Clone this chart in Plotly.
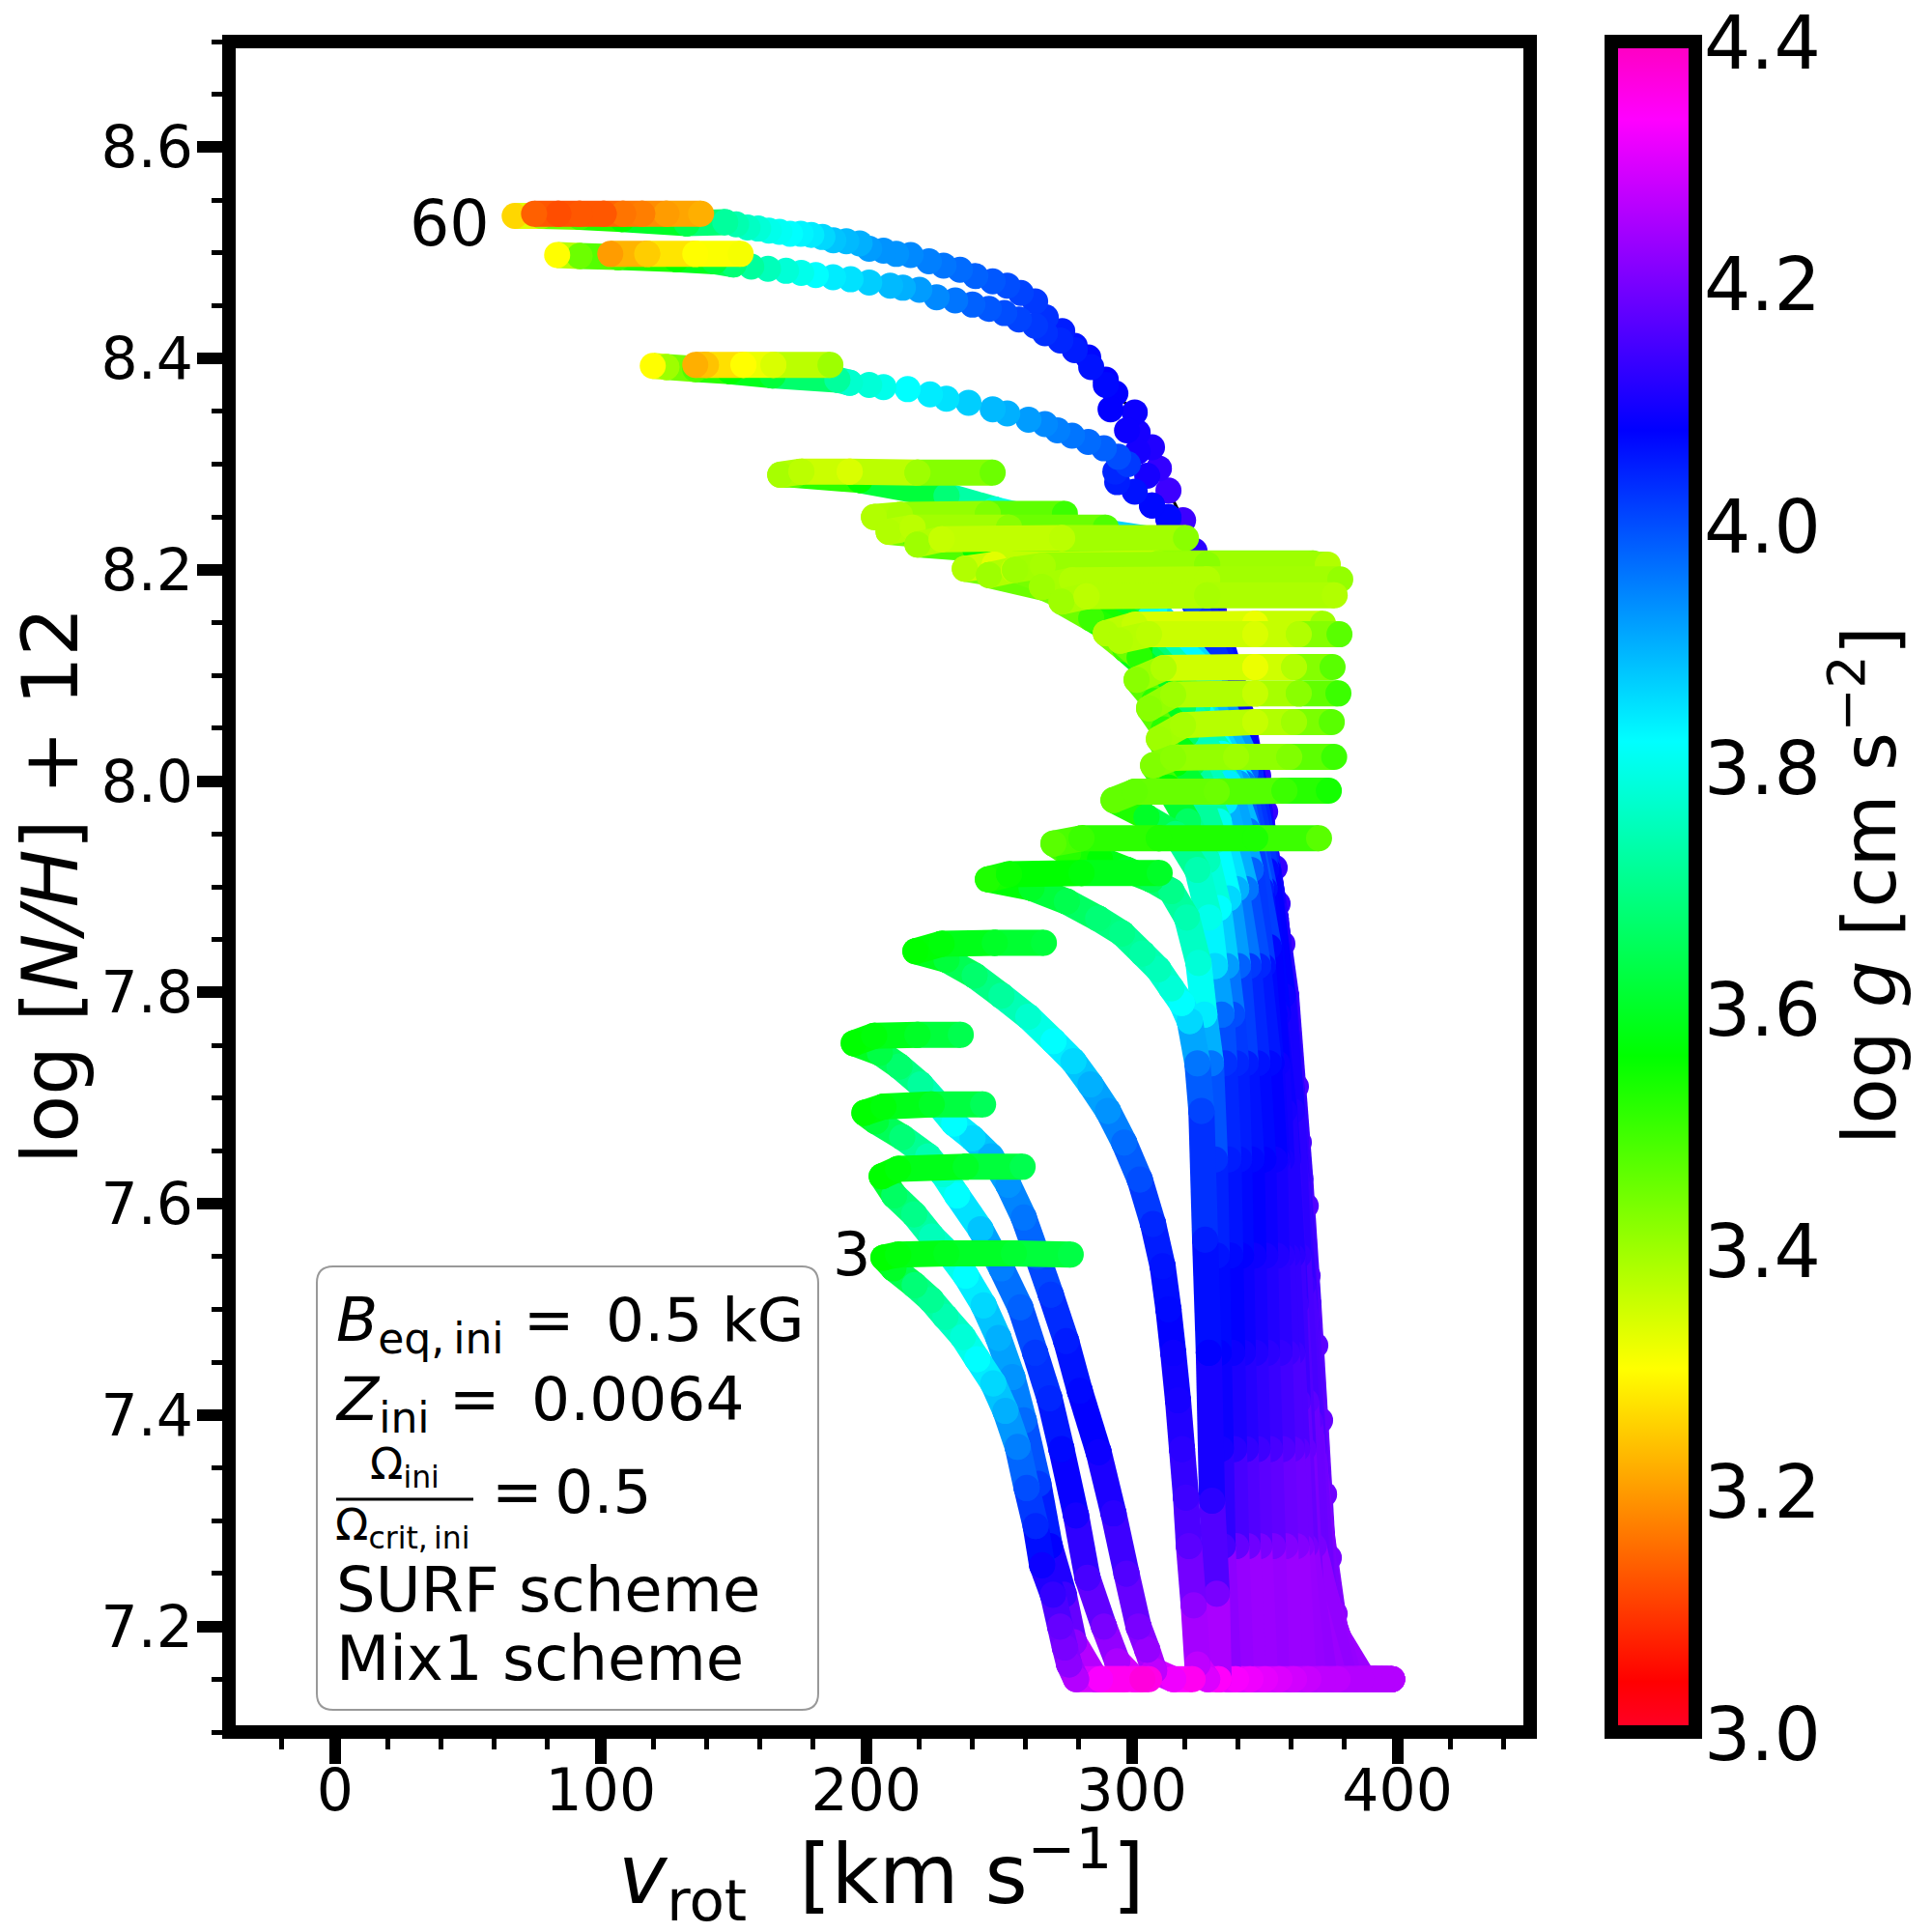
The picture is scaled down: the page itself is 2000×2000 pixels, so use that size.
import plotly.graph_objects as go

# ---- readings: v_rot [km/s], log[N/H]+12, log g ----
t01_v = [304, 288, 279, 276.4, 274.8, 273, 270.3, 266.2, 263.8, 260.4, 257, 252.4, 247.8, 241.8, 236.4, 229.8, 224.4, 218.2, 210.2, 206.5, 212, 230.2, 255.6, 277]
t01_n = [7.15, 7.15, 7.15, 7.164, 7.18, 7.2, 7.23, 7.258, 7.295, 7.331, 7.37, 7.404, 7.43, 7.453, 7.474, 7.493, 7.509, 7.523, 7.539, 7.549, 7.552, 7.553, 7.553, 7.552]
t01_g = [4.37, 4.33, 4.26, 4.22, 4.2, 4.18, 4.13, 4.09, 4.04, 4.0, 3.95, 3.9, 3.86, 3.82, 3.78, 3.74, 3.71, 3.68, 3.6, 3.56, 3.57, 3.59, 3.61, 3.63]

t02_v = [297.5, 286.5, 278.2, 274.4, 269.1, 264.8, 259.3, 255, 249.8, 244.2, 237.5, 231.5, 224.7, 218, 210.5, 205.8, 212, 237.5, 258.9]
t02_n = [7.15, 7.15, 7.185, 7.23, 7.276, 7.335, 7.395, 7.436, 7.473, 7.504, 7.532, 7.552, 7.569, 7.59, 7.608, 7.626, 7.633, 7.635, 7.635]
t02_g = [4.35, 4.3, 4.22, 4.14, 4.08, 4.02, 3.97, 3.93, 3.9, 3.86, 3.82, 3.78, 3.75, 3.7, 3.66, 3.56, 3.57, 3.6, 3.64]

t03_v = [306.5, 301, 294.5, 289.5, 283.3, 279, 273.5, 269, 263.6, 258, 250.9, 243, 234.2, 229, 223.3, 213.5, 203.6, 199.3, 206.5, 224.7, 244]
t03_n = [7.15, 7.15, 7.167, 7.2, 7.246, 7.305, 7.368, 7.416, 7.459, 7.502, 7.539, 7.576, 7.608, 7.628, 7.645, 7.663, 7.678, 7.686, 7.692, 7.694, 7.694]
t03_g = [4.36, 4.33, 4.25, 4.2, 4.15, 4.1, 4.07, 4.04, 4.02, 3.98, 3.95, 3.88, 3.82, 3.78, 3.74, 3.68, 3.62, 3.56, 3.57, 3.6, 3.65]

t04_v = [322.9, 315.6, 308.4, 305.8, 302.5, 298, 293.1, 287.5, 280.4, 275.3, 269.5, 264.5, 259.3, 253.5, 246.9, 240, 233.1, 226.8, 220.4, 212.5, 205.1, 195.3, 203, 219.3, 235.6]
t04_n = [7.15, 7.15, 7.158, 7.178, 7.2, 7.25, 7.307, 7.365, 7.423, 7.47, 7.514, 7.55, 7.587, 7.618, 7.645, 7.662, 7.676, 7.695, 7.713, 7.73, 7.743, 7.752, 7.759, 7.76, 7.76]
t04_g = [4.35, 4.32, 4.27, 4.23, 4.2, 4.16, 4.12, 4.09, 4.07, 4.05, 4.02, 3.99, 3.96, 3.93, 3.9, 3.86, 3.82, 3.77, 3.72, 3.67, 3.63, 3.56, 3.57, 3.6, 3.64]

t05_v = [332.7, 328.4, 324.7, 323.3, 321.5, 320.4, 318.9, 317.4, 315.6, 313.8, 311.6, 308, 303, 297.1, 291, 284.4, 278, 270.5, 261, 250.9, 240.8, 230.2, 218.5, 228.4, 248.4, 266.9]
t05_n = [7.15, 7.15, 7.164, 7.22, 7.276, 7.322, 7.368, 7.414, 7.459, 7.5, 7.541, 7.581, 7.623, 7.658, 7.688, 7.713, 7.735, 7.754, 7.777, 7.797, 7.816, 7.831, 7.839, 7.846, 7.847, 7.847]
t05_g = [4.34, 4.3, 4.27, 4.22, 4.17, 4.14, 4.12, 4.1, 4.09, 4.07, 4.06, 4.04, 4.0, 3.97, 3.93, 3.9, 3.86, 3.82, 3.77, 3.72, 3.67, 3.62, 3.56, 3.57, 3.6, 3.62]

t06_v = [339.3, 332.7, 332, 330.2, 329, 327.6, 326.2, 324.7, 321.8, 318.8, 314.9, 310, 304, 296.3, 287.3, 275.5, 262.2, 245.8, 253.8, 281.1, 310.5]
t06_n = [7.15, 7.15, 7.231, 7.319, 7.459, 7.566, 7.688, 7.733, 7.773, 7.79, 7.804, 7.822, 7.837, 7.856, 7.87, 7.886, 7.899, 7.907, 7.912, 7.913, 7.913]
t06_g = [4.33, 4.3, 4.2, 4.12, 4.08, 4.05, 4.01, 3.96, 3.86, 3.82, 3.78, 3.75, 3.73, 3.7, 3.68, 3.64, 3.6, 3.53, 3.55, 3.57, 3.6]

t07_v = [344.7, 336.4, 334.2, 333.5, 332.7, 332, 331.3, 329.8, 327.3, 325.1, 320.7, 314.9, 307.3, 298.2, 288, 276, 270.5, 281.1, 310.2, 346.5, 370.5]
t07_n = [7.15, 7.15, 7.276, 7.368, 7.459, 7.551, 7.642, 7.733, 7.779, 7.828, 7.871, 7.896, 7.907, 7.916, 7.926, 7.932, 7.941, 7.946, 7.946, 7.946, 7.946]
t07_g = [4.32, 4.29, 4.15, 4.1, 4.08, 4.06, 4.03, 3.96, 3.84, 3.78, 3.74, 3.7, 3.65, 3.6, 3.56, 3.52, 3.47, 3.5, 3.53, 3.53, 3.47]

t08_v = [350.2, 341.1, 339.3, 338.5, 337.8, 337.1, 336.4, 334.9, 333.8, 331.3, 329.1, 324.7, 316.4, 305.5, 293.1, 301.1, 332, 357.5, 374.2]
t08_n = [7.15, 7.15, 7.276, 7.368, 7.459, 7.551, 7.642, 7.733, 7.779, 7.825, 7.871, 7.916, 7.95, 7.966, 7.982, 7.99, 7.99, 7.991, 7.991]
t08_g = [4.31, 4.28, 4.18, 4.12, 4.09, 4.07, 4.05, 4.03, 3.97, 3.86, 3.8, 3.74, 3.68, 3.6, 3.46, 3.46, 3.45, 3.5, 3.54]

t09_v = [355.6, 345.8, 343.6, 342.9, 341.8, 341.1, 340.4, 339.3, 337.8, 335.6, 332.7, 328.4, 321.1, 313.8, 308, 315.6, 339.3, 359.3, 376.2]
t09_n = [7.15, 7.15, 7.276, 7.368, 7.459, 7.551, 7.642, 7.733, 7.779, 7.825, 7.88, 7.925, 7.962, 7.994, 8.015, 8.022, 8.023, 8.023, 8.023]
t09_g = [4.3, 4.28, 4.19, 4.13, 4.1, 4.08, 4.06, 4.04, 4.0, 3.92, 3.82, 3.75, 3.66, 3.56, 3.43, 3.42, 3.4, 3.43, 3.5]

t10_v = [361.1, 350.2, 348, 347.3, 346.5, 345.8, 345.1, 342.9, 340, 336.4, 331.3, 324.7, 316.7, 310.2, 319.3, 346.5, 361.1, 375.3]
t10_n = [7.15, 7.15, 7.276, 7.368, 7.459, 7.551, 7.642, 7.733, 7.825, 7.889, 7.944, 7.99, 8.017, 8.04, 8.053, 8.056, 8.056, 8.056]
t10_g = [4.29, 4.27, 4.2, 4.14, 4.11, 4.09, 4.07, 4.05, 3.98, 3.86, 3.78, 3.66, 3.56, 3.4, 3.39, 3.36, 3.4, 3.47]

t11_v = [366.5, 354.5, 353.1, 352, 350.9, 350.2, 349.5, 347.3, 344, 339.3, 332.7, 322.9, 312, 306.5, 315.6, 346.5, 362.9, 377.8]
t11_n = [7.15, 7.15, 7.276, 7.368, 7.459, 7.551, 7.642, 7.733, 7.825, 7.898, 7.962, 8.017, 8.049, 8.069, 8.082, 8.083, 8.083, 8.083]
t11_g = [4.28, 4.26, 4.2, 4.15, 4.12, 4.1, 4.08, 4.06, 4.02, 3.9, 3.8, 3.64, 3.52, 3.42, 3.4, 3.36, 3.42, 3.5]

t12_v = [372, 359.6, 357.8, 356.7, 355.6, 354.5, 353.8, 351.6, 347.6, 342.9, 334.9, 320.4, 308.4, 301.8, 312, 346.5, 361.1, 375.6]
t12_n = [7.15, 7.15, 7.276, 7.368, 7.459, 7.551, 7.642, 7.733, 7.825, 7.898, 7.98, 8.044, 8.076, 8.096, 8.107, 8.108, 8.108, 8.108]
t12_g = [4.27, 4.26, 4.21, 4.16, 4.13, 4.11, 4.09, 4.07, 4.04, 3.96, 3.84, 3.66, 3.52, 3.42, 3.38, 3.32, 3.38, 3.47]

t13_v = [377.5, 364.7, 361.9, 360.3, 358.4, 356.5, 354.7, 352.5, 349.4, 344.8, 336.4, 319.3, 302.9, 295.6, 306.5, 346.5, 362.9, 378.2]
t13_n = [7.15, 7.15, 7.276, 7.368, 7.459, 7.551, 7.642, 7.733, 7.825, 7.916, 7.998, 8.071, 8.117, 8.133, 8.139, 8.139, 8.139, 8.139]
t13_g = [4.27, 4.26, 4.21, 4.17, 4.14, 4.12, 4.1, 4.08, 4.06, 3.98, 3.84, 3.66, 3.52, 3.38, 3.37, 3.34, 3.38, 3.47]

t14_v = [382.2, 368.4, 363.7, 362.2, 360.4, 358.6, 356.4, 354.7, 351.6, 343.7, 333.8, 317.5, 297.5, 290.2, 301.1, 346.5, 372]
t14_n = [7.15, 7.15, 7.276, 7.368, 7.459, 7.551, 7.642, 7.733, 7.843, 7.953, 8.026, 8.081, 8.125, 8.14, 8.148, 8.149, 8.149]
t14_g = [4.26, 4.25, 4.21, 4.17, 4.14, 4.12, 4.1, 4.09, 4.07, 3.96, 3.82, 3.66, 3.5, 3.38, 3.36, 3.32, 3.4]

t15_v = [386.5, 372.7, 365.4, 362.5, 360.4, 357.3, 353.6, 348.7, 340.1, 324.7, 302.9, 284.7, 273.5, 283, 328.4, 376.4]
t15_n = [7.15, 7.15, 7.276, 7.413, 7.551, 7.688, 7.779, 7.898, 7.998, 8.071, 8.126, 8.154, 8.17, 8.175, 8.176, 8.176]
t15_g = [4.26, 4.25, 4.2, 4.16, 4.12, 4.1, 4.08, 4.05, 3.92, 3.72, 3.56, 3.5, 3.4, 3.37, 3.39, 3.38]

t16_v = [389.5, 376.4, 367.5, 364.6, 361.7, 358.8, 355, 350, 341.9, 326.5, 302.9, 281.1, 266.2, 277.5, 328.4, 378.5]
t16_n = [7.15, 7.15, 7.231, 7.368, 7.505, 7.642, 7.779, 7.898, 7.998, 8.071, 8.135, 8.167, 8.184, 8.19, 8.191, 8.191]
t16_g = [4.26, 4.25, 4.22, 4.18, 4.14, 4.11, 4.09, 4.06, 3.96, 3.76, 3.6, 3.48, 3.4, 3.38, 3.38, 3.41]

t17_v = [392, 378.6, 368.5, 365.6, 362.7, 360.3, 356.8, 350.6, 342.7, 328.4, 304.7, 277.5, 256, 266.5, 328.4, 373.8]
t17_n = [7.15, 7.15, 7.276, 7.413, 7.551, 7.688, 7.797, 7.916, 8.008, 8.081, 8.144, 8.181, 8.2, 8.204, 8.205, 8.205]
t17_g = [4.26, 4.25, 4.2, 4.17, 4.13, 4.11, 4.09, 4.07, 3.98, 3.8, 3.7, 3.48, 3.4, 3.39, 3.42, 3.38]

t18_v = [394.5, 380, 369.5, 367, 364.4, 361.2, 357.4, 351.3, 343.8, 329.2, 306.5, 270.2, 246.2, 255.6, 310.2, 370.2]
t18_n = [7.15, 7.15, 7.265, 7.395, 7.523, 7.642, 7.77, 7.916, 8.017, 8.099, 8.154, 8.181, 8.195, 8.2, 8.2, 8.2]
t18_g = [4.26, 4.25, 4.2, 4.17, 4.14, 4.12, 4.1, 4.08, 4.0, 3.85, 3.8, 3.5, 3.4, 3.36, 3.38, 3.4]

t19_v = [396, 381.5, 370.9, 367.6, 365.1, 362, 358.1, 352, 344.5, 330.3, 308.4, 270.2, 237.1, 248.4, 310.2, 368.4]
t19_n = [7.15, 7.15, 7.24, 7.386, 7.505, 7.624, 7.752, 7.898, 8.008, 8.099, 8.163, 8.188, 8.201, 8.205, 8.206, 8.206]
t19_g = [4.26, 4.25, 4.21, 4.17, 4.15, 4.13, 4.11, 4.09, 4.02, 3.9, 3.82, 3.5, 3.38, 3.33, 3.4, 3.42]

t20_v = [396.7, 382.2, 371.6, 368.4, 365.8, 362.7, 359.5, 353.1, 345.6, 334.6, 322.9, 312, 284.7, 241, 219.3, 228.4, 273.8, 320.4]
t20_n = [7.15, 7.15, 7.24, 7.368, 7.477, 7.596, 7.733, 7.889, 7.999, 8.099, 8.172, 8.2, 8.213, 8.22, 8.224, 8.229, 8.23, 8.23]
t20_g = [4.26, 4.25, 4.21, 4.17, 4.15, 4.13, 4.12, 4.1, 4.08, 4.06, 4.0, 3.82, 3.62, 3.56, 3.4, 3.36, 3.37, 3.42]

t21_v = [397.5, 382.9, 372.4, 368.7, 366.2, 363.4, 360.3, 354.2, 346.7, 336.5, 324.7, 310.2, 255.6, 217.5, 208.4, 217.5, 253.8, 290.2]
t21_n = [7.15, 7.15, 7.231, 7.359, 7.459, 7.578, 7.706, 7.87, 7.99, 8.099, 8.181, 8.218, 8.23, 8.234, 8.236, 8.24, 8.24, 8.24]
t21_g = [4.26, 4.25, 4.22, 4.18, 4.16, 4.14, 4.12, 4.11, 4.09, 4.07, 4.03, 3.9, 3.62, 3.5, 3.38, 3.37, 3.42, 3.48]

t22_v = [398, 383.6, 373, 369.5, 366.5, 364.1, 361, 355, 347.5, 337.5, 326.5, 312, 281.1, 237.5, 202.9, 212.7, 245.8, 274.8]
t22_n = [7.15, 7.15, 7.222, 7.34, 7.441, 7.56, 7.679, 7.852, 7.981, 8.099, 8.19, 8.227, 8.239, 8.245, 8.25, 8.252, 8.253, 8.253]
t22_g = [4.26, 4.25, 4.22, 4.19, 4.16, 4.14, 4.12, 4.11, 4.1, 4.08, 4.05, 3.95, 3.78, 3.6, 3.38, 3.39, 3.43, 3.5]

t23_v = [398, 384.4, 373.8, 370.2, 367.3, 364.9, 361.7, 355.7, 348.2, 338.3, 328.4, 313.8, 273.8, 258.5, 248.4, 230.2, 197.5, 173.1, 167.6, 175.6, 193.8, 219.3, 247.6]
t23_n = [7.15, 7.15, 7.212, 7.322, 7.423, 7.541, 7.66, 7.834, 7.971, 8.09, 8.172, 8.222, 8.234, 8.251, 8.257, 8.27, 8.285, 8.29, 8.29, 8.293, 8.293, 8.292, 8.292]
t23_g = [4.26, 4.25, 4.22, 4.19, 4.17, 4.15, 4.13, 4.11, 4.1, 4.08, 4.05, 3.98, 3.88, 3.82, 3.78, 3.68, 3.56, 3.47, 3.39, 3.37, 3.34, 3.4, 3.45]

# 'C' = third highest track: body, dotted part, smooth tail, end clump
c_body_v = [398, 385.8, 374.6, 370.9, 368, 365.4, 362.3, 356.3, 348.9, 338.9, 329.1, 319.3, 313.8]
c_body_n = [7.15, 7.15, 7.203, 7.304, 7.414, 7.523, 7.642, 7.825, 7.962, 8.081, 8.163, 8.218, 8.25]
c_body_g = [4.26, 4.25, 4.22, 4.19, 4.17, 4.15, 4.13, 4.12, 4.11, 4.09, 4.08, 4.07, 4.07]
c_dots_v = [313.8, 307.6, 301.1, 294.5, 293.8, 298.5, 294.9, 289.5, 283.6, 277.5, 272, 267.3, 261.1, 253.1, 247.6, 238.5, 230.2, 224, 215.6, 206.5, 201.1, 193.8]
c_dots_n = [8.25, 8.261, 8.274, 8.283, 8.293, 8.3, 8.307, 8.315, 8.321, 8.327, 8.332, 8.338, 8.342, 8.348, 8.352, 8.358, 8.362, 8.366, 8.371, 8.373, 8.375, 8.377]
c_dots_g = [4.07, 4.07, 4.06, 4.05, 4.04, 4.02, 4.0, 3.98, 3.97, 3.96, 3.95, 3.94, 3.92, 3.9, 3.89, 3.87, 3.85, 3.84, 3.82, 3.8, 3.78, 3.77]
c_tail_v = [193.8, 189.1, 164.7, 148.7, 135.6, 124.7, 119.6]
c_tail_n = [8.377, 8.38, 8.384, 8.388, 8.39, 8.392, 8.393]
c_tail_g = [3.77, 3.72, 3.62, 3.56, 3.48, 3.4, 3.3]
c_end_v = [186.5, 165, 153.7, 139.6, 135.6]
c_end_n = [8.394, 8.394, 8.394, 8.394, 8.394]
c_end_g = [3.4, 3.34, 3.3, 3.24, 3.22]

# 'B' = second highest track
b_body_v = [398, 387.3, 376.7, 371.6, 369.1, 366.5, 363.4, 358.1, 350, 341.4, 331.3, 321.1, 313.8]
b_body_n = [7.15, 7.15, 7.194, 7.286, 7.395, 7.505, 7.624, 7.797, 7.943, 8.062, 8.145, 8.204, 8.248]
b_body_g = [4.26, 4.25, 4.22, 4.2, 4.18, 4.16, 4.14, 4.13, 4.12, 4.11, 4.1, 4.1, 4.1]
b_dots_v = [313.8, 307.6, 305.8, 302.2, 298.2, 292, 290.2, 284.7, 278.5, 273.1, 267.3, 263.6, 257.5, 252, 246.2, 240, 233.5, 226.5, 220, 213.8, 209, 201.1, 194.1, 187.5, 181, 175.5, 169.8, 163, 156.7, 150]
b_dots_n = [8.248, 8.261, 8.289, 8.312, 8.332, 8.352, 8.375, 8.392, 8.408, 8.417, 8.424, 8.431, 8.437, 8.443, 8.447, 8.451, 8.455, 8.458, 8.465, 8.467, 8.469, 8.472, 8.475, 8.477, 8.479, 8.481, 8.483, 8.485, 8.487, 8.489]
b_dots_g = [4.1, 4.1, 4.1, 4.1, 4.09, 4.08, 4.07, 4.06, 4.05, 4.04, 4.03, 4.02, 4.01, 4.0, 3.99, 3.98, 3.96, 3.94, 3.92, 3.9, 3.89, 3.87, 3.85, 3.84, 3.82, 3.8, 3.78, 3.75, 3.72, 3.68]
b_tail_v = [150, 142.9, 128.4, 106.5, 92, 83.6]
b_tail_n = [8.489, 8.492, 8.494, 8.496, 8.497, 8.498]
b_tail_g = [3.68, 3.62, 3.56, 3.5, 3.45, 3.3]
b_end_v = [152.7, 135.6, 117.5, 103.6]
b_end_n = [8.499, 8.499, 8.499, 8.499]
b_end_g = [3.31, 3.3, 3.25, 3.2]

# 'A' = highest track (edge of the fan; dots all the way)
a_dots_v = [398, 382.9, 380, 376.4, 374.2, 372.4, 370.9, 369.1, 366.2, 365.5, 362.9, 361.8, 358.9, 356.7, 356.7, 354.9, 353.8, 350.2, 347.6, 342.9, 340.4, 334.5, 330.9, 323.6, 319.3, 313.8, 310.2, 307.6, 302.2, 301.1, 293.8, 290.2, 283.6, 278.5, 273.8, 267.6, 263.6, 258.2, 253.1, 247.6, 241.1, 235.3, 229.1, 223.6, 216.7, 211.3, 206.5, 201.1, 197.5, 192.5, 187.6, 183.5, 179.3, 175.3, 171.3, 167.3, 163.3, 159.3, 155.3, 151, 146.9]
a_dots_n = [7.15, 7.15, 7.161, 7.212, 7.265, 7.325, 7.395, 7.466, 7.532, 7.598, 7.658, 7.711, 7.761, 7.8, 7.846, 7.884, 7.918, 7.971, 8.005, 8.042, 8.081, 8.116, 8.161, 8.218, 8.247, 8.275, 8.296, 8.316, 8.33, 8.349, 8.367, 8.38, 8.401, 8.412, 8.426, 8.439, 8.454, 8.462, 8.469, 8.473, 8.478, 8.484, 8.488, 8.492, 8.498, 8.499, 8.502, 8.504, 8.509, 8.511, 8.512, 8.515, 8.517, 8.518, 8.518, 8.52, 8.521, 8.523, 8.524, 8.527, 8.529]
a_dots_g = [4.26, 4.25, 4.24, 4.22, 4.2, 4.19, 4.18, 4.17, 4.16, 4.16, 4.15, 4.15, 4.14, 4.14, 4.14, 4.13, 4.13, 4.13, 4.13, 4.12, 4.12, 4.12, 4.12, 4.12, 4.14, 4.14, 4.13, 4.11, 4.1, 4.09, 4.08, 4.08, 4.07, 4.06, 4.05, 4.03, 4.02, 4.01, 4.0, 3.99, 3.98, 3.97, 3.96, 3.95, 3.94, 3.93, 3.93, 3.92, 3.9, 3.89, 3.88, 3.86, 3.84, 3.83, 3.82, 3.81, 3.8, 3.78, 3.76, 3.74, 3.72]
a_tail_v = [146.9, 132.4, 108, 92, 77.5, 67.6]
a_tail_n = [8.529, 8.528, 8.532, 8.534, 8.535, 8.535]
a_tail_g = [3.72, 3.64, 3.56, 3.5, 3.4, 3.26]
a_end_v = [137.8, 124.7, 115.6, 108.4, 101.1, 92, 84, 74.9]
a_end_n = [8.537, 8.537, 8.537, 8.537, 8.537, 8.537, 8.537, 8.537]
a_end_g = [3.22, 3.2, 3.17, 3.16, 3.13, 3.13, 3.12, 3.14]

x_ticks = [0, 100, 200, 300, 400]
x_minor = [-20, 20, 40, 60, 80, 120, 140, 160, 180, 220, 240, 260, 280, 320, 340, 360, 380, 420, 440]
y_ticks = [7.2, 7.4, 7.6, 7.8, 8.0, 8.2, 8.4, 8.6]
cb_ticks = [3.0, 3.2, 3.4, 3.6, 3.8, 4.0, 4.2, 4.4]
G_MIN, G_MAX = 3.0, 4.4

RAINBOW = [(0.000, (255, 0, 41)), (0.030, (255, 0, 0)), (0.215, (255, 255, 0)),
           (0.400, (0, 255, 0)), (0.586, (0, 255, 255)), (0.770, (0, 0, 255)),
           (0.954, (255, 0, 255)), (1.000, (255, 0, 191))]
COLORSCALE = [[p, f"rgb{c}"] for p, c in RAINBOW]


def colour(g):
    t = (g - G_MIN) / (G_MAX - G_MIN)
    for (p0, c0), (p1, c1) in zip(RAINBOW, RAINBOW[1:]):
        if t <= p1:
            f = (t - p0) / (p1 - p0)
            r = [round(a + (b - a) * f) for a, b in zip(c0, c1)]
            return f"rgb({r[0]},{r[1]},{r[2]})"
    return "rgb(255,0,191)"


fig = go.Figure()
MARK = 27
WIDTH = 27


def dots(v, n, g):
    fig.add_trace(go.Scatter(x=v, y=n, mode="markers", hoverinfo="skip", showlegend=False,
                             marker=dict(size=MARK, color=g, coloraxis="coloraxis", line_width=0)))


def stroke(v, n, g):
    # one piece per step so that later steps of a track lie over earlier ones
    for i in range(len(v) - 1):
        fig.add_trace(go.Scatter(x=v[i:i + 2], y=n[i:i + 2], mode="lines+markers", hoverinfo="skip", showlegend=False,
                                 line=dict(color=colour((g[i] + g[i + 1]) / 2), width=WIDTH),
                                 marker=dict(size=MARK, color=g[i:i + 2], coloraxis="coloraxis", line_width=0)))


# highest track first, lowest last: lower tracks lie on top
stroke(b_body_v, b_body_n, b_body_g)
stroke(c_body_v, c_body_n, c_body_g)
fig.add_trace(go.Scatter(x=a_dots_v, y=a_dots_n, mode="lines", hoverinfo="skip", showlegend=False,
                         line=dict(color="black", width=3)))
dots(a_dots_v, a_dots_n, a_dots_g)
stroke(a_tail_v, a_tail_n, a_tail_g)
stroke(a_end_v, a_end_n, a_end_g)
dots(b_dots_v, b_dots_n, b_dots_g)
stroke(b_tail_v, b_tail_n, b_tail_g)
stroke(b_end_v, b_end_n, b_end_g)
dots(c_dots_v, c_dots_n, c_dots_g)
stroke(c_tail_v, c_tail_n, c_tail_g)
stroke(c_end_v, c_end_n, c_end_g)
for v, n, g in [(t23_v, t23_n, t23_g), (t22_v, t22_n, t22_g), (t21_v, t21_n, t21_g), (t20_v, t20_n, t20_g),
                (t19_v, t19_n, t19_g), (t18_v, t18_n, t18_g), (t17_v, t17_n, t17_g), (t16_v, t16_n, t16_g),
                (t15_v, t15_n, t15_g), (t14_v, t14_n, t14_g), (t13_v, t13_n, t13_g), (t12_v, t12_n, t12_g),
                (t11_v, t11_n, t11_g), (t10_v, t10_n, t10_g), (t09_v, t09_n, t09_g), (t08_v, t08_n, t08_g),
                (t07_v, t07_n, t07_g), (t06_v, t06_n, t06_g), (t05_v, t05_n, t05_g), (t04_v, t04_n, t04_g),
                (t03_v, t03_n, t03_g), (t02_v, t02_n, t02_g), (t01_v, t01_n, t01_g)]:
    stroke(v, n, g)

PAGE = 8  # the page's own margin


def X(px):
    return (px - PAGE) / 2000


def Y(px):
    return 1 - (px - PAGE) / 2000


FONT = "DejaVu Sans"
L, R, T, B = 237, 1584, 43, 1793


def note(text, x, y, size, anchor="left", angle=0):
    fig.add_annotation(text=text, xref="paper", yref="paper", x=X(x), y=Y(y), xanchor=anchor, yanchor="middle",
                       showarrow=False, textangle=angle, font=dict(family=FONT, size=size, color="black"))


fig.add_annotation(text="60", x=43, y=8.528, showarrow=False, font=dict(family=FONT, size=65, color="black"))
fig.add_annotation(text="3", x=194.5, y=7.552, showarrow=False, font=dict(family=FONT, size=62, color="black"))

NB = "\u00a0"
TH = "\u2009"
note(f"<i>v</i><sub>rot</sub>{NB}{NB}[km s<sup>\u22121</sup>]", 912, 1940, 85, "center")
note("log [<i>N/H</i>] + 12", 52, 917, 80, "center", -90)
note("log <i>g</i> [cm s<sup>\u22122</sup>]", 1930, 917, 77, "center", -90)

for t in cb_ticks:
    note(f"{t:.1f}", 1762, B - (t - G_MIN) / (G_MAX - G_MIN) * (B - T) + 2, 76)

note(f"<i>B</i><sub>eq,{TH}ini</sub> ={NB}{TH}0.5 kG", 346, 1370, 63)
note(f"<i>Z</i><sub>ini</sub> ={NB}{TH}0.0064", 345, 1452, 63)
note("\u03a9<sub>ini</sub>", 381, 1518, 45)
note(f"\u03a9<sub>crit,{TH}ini</sub>", 345, 1581, 45)
note(f"={TH}0.5", 507, 1544, 63)
note("SURF scheme", 346, 1646, 64)
note("Mix1 scheme", 346, 1717, 64)

r = 17
x0, x1, y0, y1 = X(328), X(847), Y(1311), Y(1770)
rx, ry = r / 2000, r / 2000
box = (f"M {x0+rx} {y0} L {x1-rx} {y0} Q {x1} {y0} {x1} {y0-ry} L {x1} {y1+ry} Q {x1} {y1} {x1-rx} {y1} "
       f"L {x0+rx} {y1} Q {x0} {y1} {x0} {y1+ry} L {x0} {y0-ry} Q {x0} {y0} {x0+rx} {y0} Z")

fig.update_layout(
    width=2000, height=2000, autosize=False, paper_bgcolor="white", plot_bgcolor="white",
    margin=dict(l=0, r=0, t=0, b=0), showlegend=False,
    font=dict(family=FONT, color="black"),
    coloraxis=dict(
        cmin=G_MIN, cmax=G_MAX, colorscale=COLORSCALE,
        colorbar=dict(
            x=X(1668), xanchor="left", xpad=0, y=Y(T), yanchor="top", ypad=0,
            len=B - T, lenmode="pixels", thickness=1755 - 1668, thicknessmode="pixels",
            outlinewidth=14, outlinecolor="black", borderwidth=0,
            ticks="", showticklabels=False,
        ),
    ),
    xaxis=dict(
        domain=[X(L), X(R)], range=[-40, 450], showgrid=False, zeroline=False, showline=False,
        tickmode="array", tickvals=x_ticks, ticktext=[str(t) for t in x_ticks],
        ticks="outside", ticklen=32, tickwidth=12, tickcolor="black", ticklabelstandoff=-24,
        tickfont=dict(family=FONT, size=60, color="black"),
        minor=dict(tickmode="array", tickvals=x_minor, ticks="outside", ticklen=17, tickwidth=4.5, tickcolor="black", showgrid=False),
    ),
    yaxis=dict(
        domain=[Y(B), Y(T)], range=[7.1, 8.7], showgrid=False, zeroline=False, showline=False,
        tickmode="array", tickvals=y_ticks, ticktext=[f"{t:.1f}" for t in y_ticks],
        ticks="outside", ticklen=32, tickwidth=12, tickcolor="black", ticklabelstandoff=-8,
        tickfont=dict(family=FONT, size=60, color="black"),
        minor=dict(tick0=7.1, dtick=0.05, ticks="outside", ticklen=17, tickwidth=4.5, tickcolor="black", showgrid=False),
    ),
    shapes=[
        dict(type="rect", xref="paper", yref="paper", x0=X(L), x1=X(R), y0=Y(B), y1=Y(T),
             line=dict(color="black", width=14), fillcolor="rgba(0,0,0,0)", layer="above"),
        dict(type="path", xref="paper", yref="paper", path=box, line=dict(color="#999999", width=2),
             fillcolor="white", layer="above"),
        dict(type="line", xref="paper", yref="paper", x0=X(348), x1=X(490), y0=Y(1552), y1=Y(1552),
             line=dict(color="black", width=3), layer="above"),
    ],
)

fig.write_html("out.html")
